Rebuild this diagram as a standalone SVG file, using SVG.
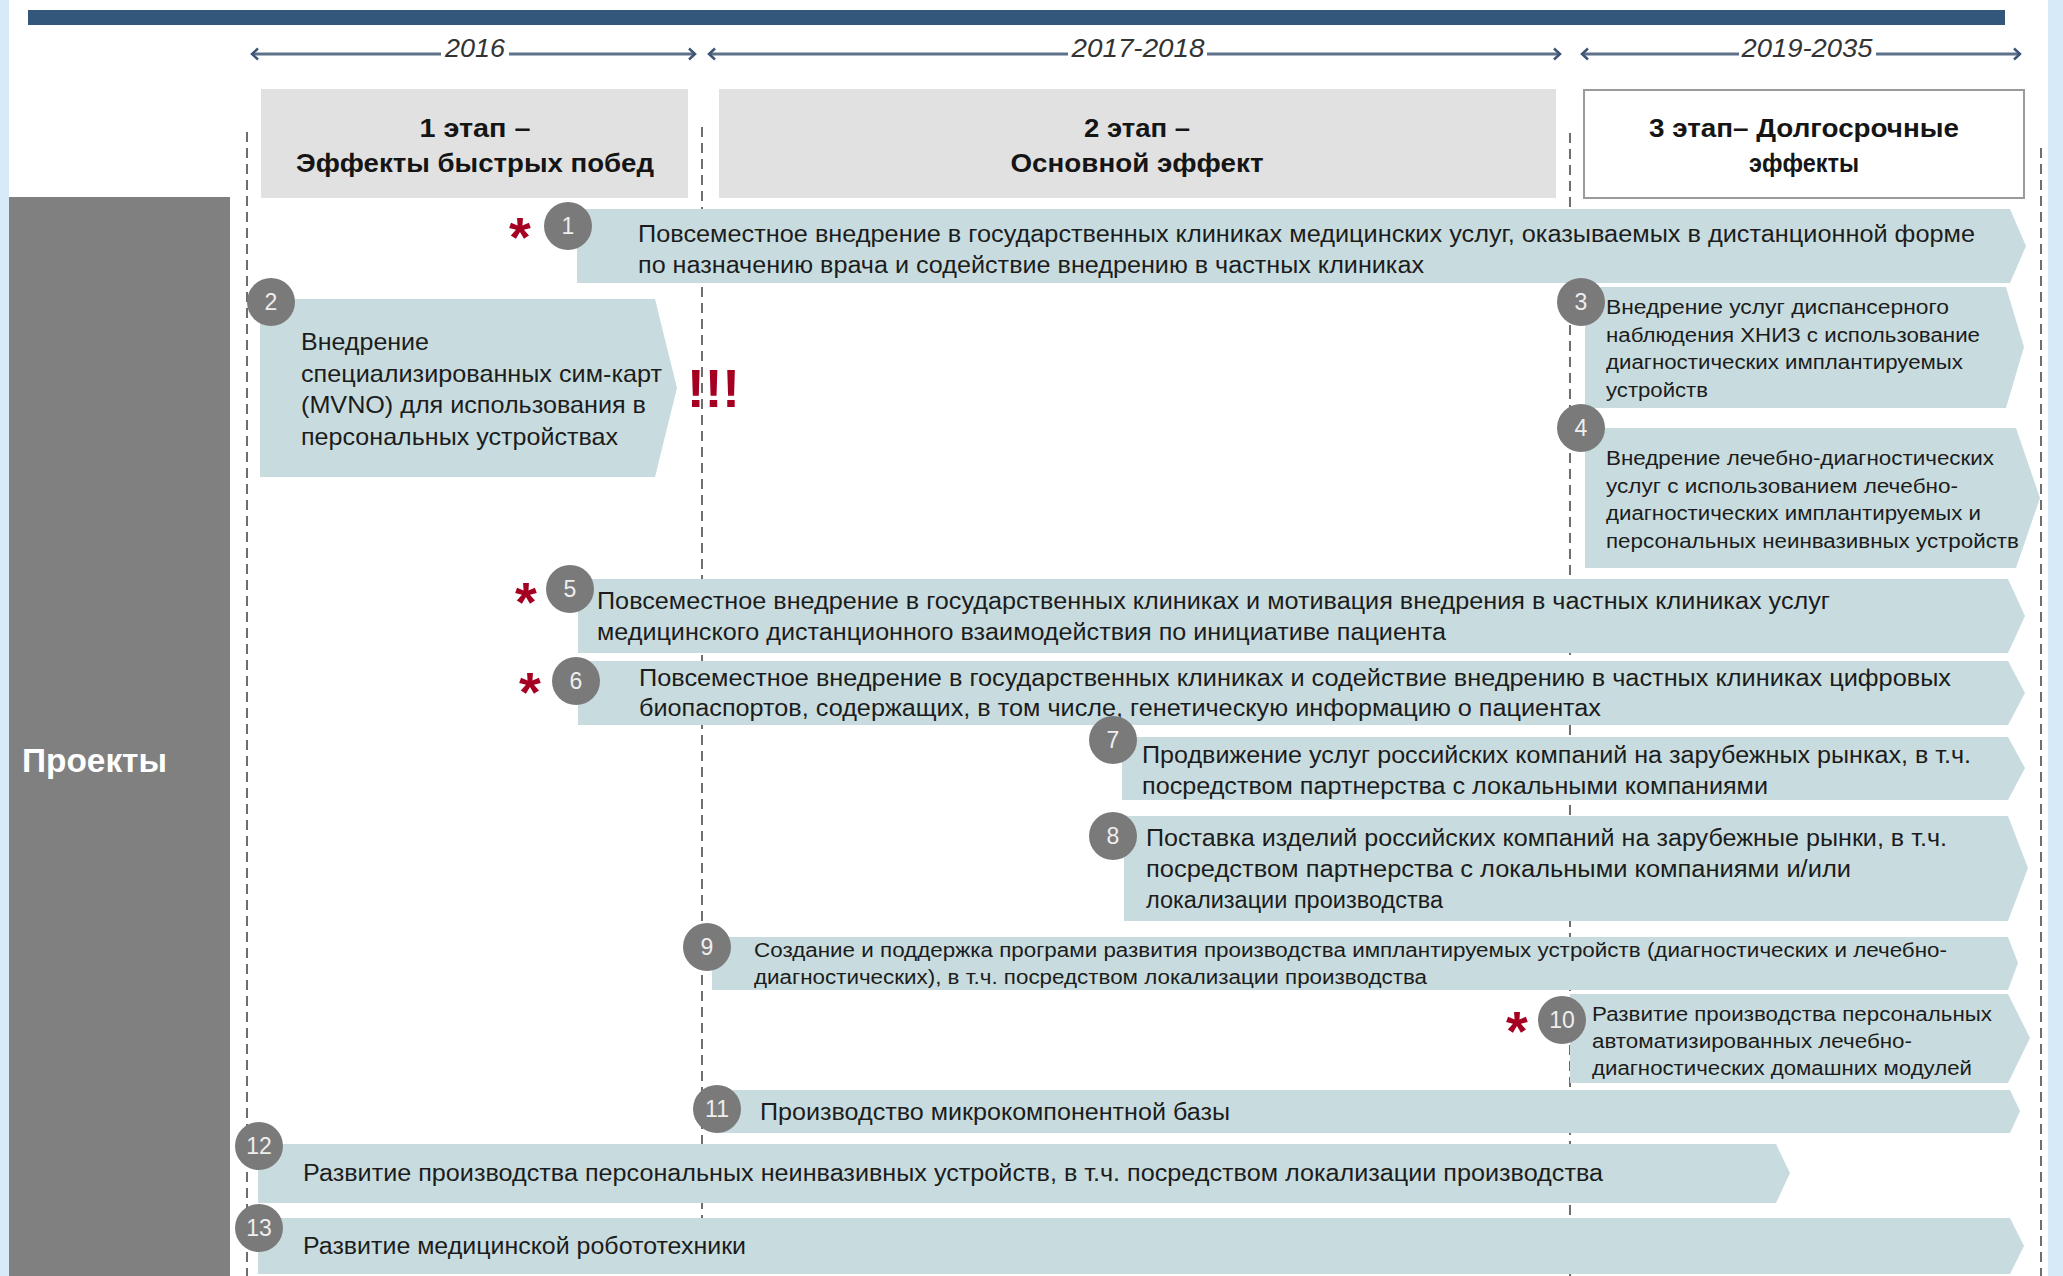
<svg xmlns="http://www.w3.org/2000/svg" width="2063" height="1276" viewBox="0 0 2063 1276">
<defs>
<style>
.bar{fill:#c8dcdf}
.hdr{fill:#e1e1e1}
.circ{fill:#7a7a7a}
.num{font-family:"Liberation Sans",Arial,sans-serif;font-size:23px;fill:#eeeeee;text-anchor:middle}
.t{font-family:"Liberation Sans",Arial,sans-serif;fill:#1c1c1c}
.m{font-size:23px}
.s{font-size:20px}
.l{font-size:24px}
.h{font-family:"Liberation Sans",Arial,sans-serif;font-size:25px;font-weight:bold;fill:#151515;text-anchor:middle}
.yr{font-family:"Liberation Sans",Arial,sans-serif;font-size:26px;font-style:italic;fill:#333333;text-anchor:middle}
.ast{font-family:"Liberation Sans",Arial,sans-serif;font-size:56px;font-weight:bold;fill:#a50021;text-anchor:middle}
.dash{stroke:#6e6e6e;stroke-width:2;stroke-dasharray:10 6;fill:none}
.tl{stroke:#5f7189;stroke-width:3;fill:none;marker-end:url(#chev)}
</style>
<marker id="chev" viewBox="0 0 10 14" markerUnits="userSpaceOnUse" markerWidth="10" markerHeight="14" refX="8" refY="7" orient="auto">
<path d="M2,1.5 L8,7 L2,12.5" fill="none" stroke="#3d5575" stroke-width="2.5"/>
</marker>
</defs>
<rect x="0" y="0" width="2063" height="1276" fill="#ffffff"/>
<rect x="0" y="0" width="9" height="1276" fill="#d6eaf8"/>
<rect x="2048" y="0" width="15" height="1276" fill="#d6eaf8"/>
<rect x="28" y="10" width="1977" height="15" fill="#33567b"/>

<g id="connectors">
<path class="tl" d="M441,54 L252,54"/>
<path class="tl" d="M509,54 L695,54"/>
<path class="tl" d="M1068,54 L709,54"/>
<path class="tl" d="M1207,54 L1560,54"/>
<path class="tl" d="M1739,54 L1582,54"/>
<path class="tl" d="M1876,54 L2020,54"/>
<path class="dash" d="M247,132 V1276"/>
<path class="dash" d="M702,127 V1276"/>
<path class="dash" d="M1570,133 V1276"/>
<path class="dash" d="M2041,148 V1276"/>
</g>
<text class="yr" x="475" y="57" textLength="60" lengthAdjust="spacingAndGlyphs">2016</text>
<text class="yr" x="1138" y="57" textLength="133" lengthAdjust="spacingAndGlyphs">2017-2018</text>
<text class="yr" x="1807" y="57" textLength="131" lengthAdjust="spacingAndGlyphs">2019-2035</text>

<g id="stage1">
<rect class="hdr" x="261" y="89" width="427" height="109"/>
<text class="h" x="475" y="137" textLength="111" lengthAdjust="spacingAndGlyphs">1 этап –</text>
<text class="h" x="475" y="172" textLength="358" lengthAdjust="spacingAndGlyphs">Эффекты быстрых побед</text>
</g>
<g id="stage2">
<rect class="hdr" x="719" y="89" width="837" height="109"/>
<text class="h" x="1137" y="137" textLength="106" lengthAdjust="spacingAndGlyphs">2 этап –</text>
<text class="h" x="1137" y="172" textLength="253" lengthAdjust="spacingAndGlyphs">Основной эффект</text>
</g>
<g id="stage3">
<rect x="1584" y="90" width="440" height="108" fill="#ffffff" stroke="#9a9a9a" stroke-width="2"/>
<text class="h" x="1804" y="137" textLength="310" lengthAdjust="spacingAndGlyphs">3 этап– Долгосрочные</text>
<text class="h" x="1804" y="172" textLength="110" lengthAdjust="spacingAndGlyphs">эффекты</text>
</g>

<g id="projects">
<rect x="9" y="197" width="221" height="1079" fill="#808080"/>
<text x="22" y="772" font-family="Liberation Sans, Arial, sans-serif" font-size="34" font-weight="bold" fill="#ffffff" textLength="145" lengthAdjust="spacingAndGlyphs">Проекты</text>
</g>

<g id="p1">
<polygon class="bar" points="577,209 2010,209 2026,246 2010,283 577,283"/>
<circle class="circ" cx="568" cy="226" r="24"/>
<text class="num" x="568" y="234">1</text>
<text class="ast" x="520" y="256">*</text>
<text class="t m" x="638" y="242" textLength="1337" lengthAdjust="spacingAndGlyphs">Повсеместное  внедрение в государственных клиниках медицинских услуг, оказываемых в дистанционной форме</text>
<text class="t m" x="638" y="273" textLength="786" lengthAdjust="spacingAndGlyphs">по назначению врача и содействие внедрению в частных клиниках</text>
</g>

<g id="p2">
<polygon class="bar" points="260,299 655,299 677,388 655,477 260,477"/>
<circle class="circ" cx="271" cy="302" r="24"/>
<text class="num" x="271" y="310">2</text>
<text class="t l" x="301" y="350" textLength="128" lengthAdjust="spacingAndGlyphs">Внедрение</text>
<text class="t l" x="301" y="382" textLength="361" lengthAdjust="spacingAndGlyphs">специализированных сим-карт</text>
<text class="t l" x="301" y="413" textLength="345" lengthAdjust="spacingAndGlyphs">(MVNO) для использования в</text>
<text class="t l" x="301" y="445" textLength="317" lengthAdjust="spacingAndGlyphs">персональных устройствах</text>
<text x="687" y="407" font-family="Liberation Sans, Arial, sans-serif" font-size="53" font-weight="bold" fill="#a50021">!!!</text>
</g>

<g id="p3">
<polygon class="bar" points="1585,287 2006,287 2024,347 2006,408 1585,408"/>
<circle class="circ" cx="1581" cy="302" r="24"/>
<text class="num" x="1581" y="310">3</text>
<text class="t s" x="1606" y="314" textLength="343" lengthAdjust="spacingAndGlyphs">Внедрение услуг  диспансерного</text>
<text class="t s" x="1606" y="342" textLength="374" lengthAdjust="spacingAndGlyphs">наблюдения ХНИЗ с использование</text>
<text class="t s" x="1606" y="369" textLength="357" lengthAdjust="spacingAndGlyphs">диагностических имплантируемых</text>
<text class="t s" x="1606" y="397" textLength="102" lengthAdjust="spacingAndGlyphs">устройств</text>
</g>

<g id="p4">
<polygon class="bar" points="1585,428 2016,428 2040,498 2016,568 1585,568"/>
<circle class="circ" cx="1581" cy="428" r="24"/>
<text class="num" x="1581" y="436">4</text>
<text class="t s" x="1606" y="465" textLength="388" lengthAdjust="spacingAndGlyphs">Внедрение лечебно-диагностических</text>
<text class="t s" x="1606" y="493" textLength="352" lengthAdjust="spacingAndGlyphs">услуг с использованием лечебно-</text>
<text class="t s" x="1606" y="520" textLength="375" lengthAdjust="spacingAndGlyphs">диагностических имплантируемых и</text>
<text class="t s" x="1606" y="548" textLength="413" lengthAdjust="spacingAndGlyphs">персональных неинвазивных устройств</text>
</g>

<g id="p5">
<polygon class="bar" points="578,579 2008,579 2025,616 2008,653 578,653"/>
<circle class="circ" cx="570" cy="589" r="24"/>
<text class="num" x="570" y="597">5</text>
<text class="ast" x="526" y="621">*</text>
<text class="t m" x="597" y="609" textLength="1233" lengthAdjust="spacingAndGlyphs">Повсеместное внедрение в государственных клиниках и мотивация внедрения в частных клиниках услуг</text>
<text class="t m" x="597" y="640" textLength="849" lengthAdjust="spacingAndGlyphs">медицинского дистанционного взаимодействия по инициативе пациента</text>
</g>

<g id="p6">
<polygon class="bar" points="578,661 2008,661 2025,693 2008,725 578,725"/>
<circle class="circ" cx="576" cy="681" r="24"/>
<text class="num" x="576" y="689">6</text>
<text class="ast" x="530" y="711">*</text>
<text class="t m" x="639" y="686" textLength="1312" lengthAdjust="spacingAndGlyphs">Повсеместное внедрение в государственных клиниках и содействие  внедрению в частных клиниках цифровых</text>
<text class="t m" x="639" y="716" textLength="962" lengthAdjust="spacingAndGlyphs">биопаспортов, содержащих, в том числе, генетическую информацию о пациентах</text>
</g>

<g id="p7">
<polygon class="bar" points="1122,737 2008,737 2025,768 2008,800 1122,800"/>
<circle class="circ" cx="1113" cy="740" r="24"/>
<text class="num" x="1113" y="748">7</text>
<text class="t m" x="1142" y="763" textLength="829" lengthAdjust="spacingAndGlyphs">Продвижение услуг российских компаний на зарубежных рынках, в т.ч.</text>
<text class="t m" x="1142" y="794" textLength="626" lengthAdjust="spacingAndGlyphs">посредством партнерства с локальными компаниями</text>
</g>

<g id="p8">
<polygon class="bar" points="1124,816 2008,816 2028,868 2008,921 1124,921"/>
<circle class="circ" cx="1113" cy="836" r="24"/>
<text class="num" x="1113" y="844">8</text>
<text class="t m" x="1146" y="846" textLength="801" lengthAdjust="spacingAndGlyphs">Поставка изделий российских компаний на зарубежные рынки, в т.ч.</text>
<text class="t m" x="1146" y="877" textLength="705" lengthAdjust="spacingAndGlyphs">посредством партнерства с локальными компаниями и/или</text>
<text class="t m" x="1146" y="908" textLength="297" lengthAdjust="spacingAndGlyphs">локализации производства</text>
</g>

<g id="p9">
<polygon class="bar" points="712,937 2008,937 2018,963 2008,990 712,990"/>
<circle class="circ" cx="707" cy="947" r="24"/>
<text class="num" x="707" y="955">9</text>
<text class="t s" x="754" y="957" textLength="1193" lengthAdjust="spacingAndGlyphs">Создание и поддержка програми развития производства имплантируемых устройств (диагностических и лечебно-</text>
<text class="t s" x="754" y="984" textLength="673" lengthAdjust="spacingAndGlyphs">диагностических), в т.ч. посредством локализации производства</text>
</g>

<g id="p10">
<polygon class="bar" points="1570,994 2008,994 2030,1038 2008,1083 1570,1083"/>
<circle class="circ" cx="1562" cy="1020" r="24"/>
<text class="num" x="1562" y="1028">10</text>
<text class="ast" x="1517" y="1050">*</text>
<text class="t s" x="1592" y="1021" textLength="400" lengthAdjust="spacingAndGlyphs">Развитие производства персональных</text>
<text class="t s" x="1592" y="1048" textLength="320" lengthAdjust="spacingAndGlyphs">автоматизированных лечебно-</text>
<text class="t s" x="1592" y="1075" textLength="380" lengthAdjust="spacingAndGlyphs">диагностических домашних модулей</text>
</g>

<g id="p11">
<polygon class="bar" points="717,1090 2010,1090 2020,1111 2010,1133 717,1133"/>
<circle class="circ" cx="717" cy="1109" r="24"/>
<text class="num" x="717" y="1117">11</text>
<text class="t m" x="760" y="1120" textLength="470" lengthAdjust="spacingAndGlyphs">Производство микрокомпонентной базы</text>
</g>

<g id="p12">
<polygon class="bar" points="258,1144 1776,1144 1790,1173 1776,1203 258,1203"/>
<circle class="circ" cx="259" cy="1146" r="24"/>
<text class="num" x="259" y="1154">12</text>
<text class="t m" x="303" y="1181" textLength="1300" lengthAdjust="spacingAndGlyphs">Развитие производства персональных неинвазивных устройств, в т.ч. посредством локализации производства</text>
</g>

<g id="p13">
<polygon class="bar" points="258,1218 2010,1218 2024,1246 2010,1274 258,1274"/>
<circle class="circ" cx="259" cy="1228" r="24"/>
<text class="num" x="259" y="1236">13</text>
<text class="t m" x="303" y="1254" textLength="443" lengthAdjust="spacingAndGlyphs">Развитие медицинской робототехники</text>
</g>
</svg>
